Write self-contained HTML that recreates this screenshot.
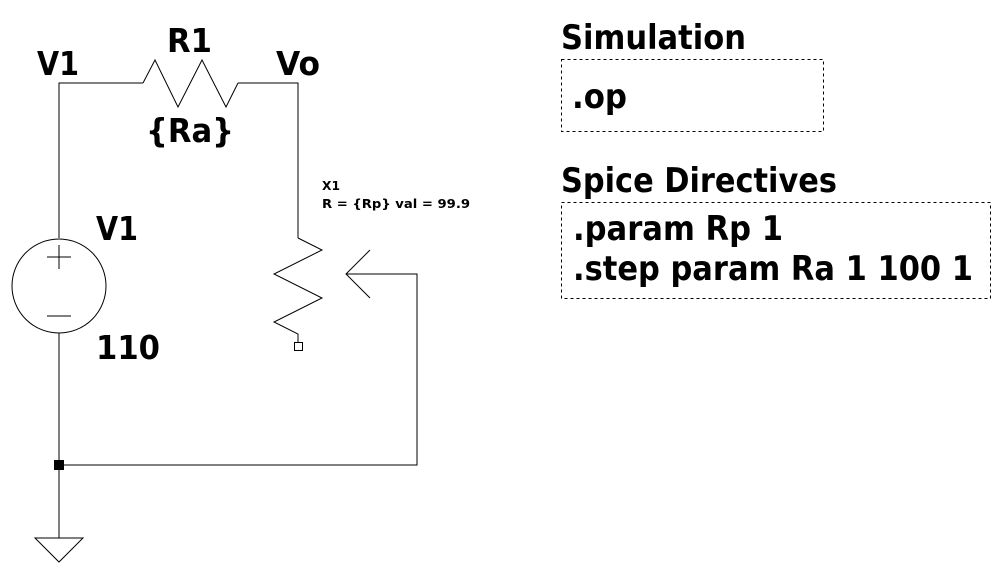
<!DOCTYPE html>
<html><head><style>html,body{margin:0;padding:0;background:#fff;}svg{display:block}</style></head><body>
<svg width="1002" height="580" viewBox="0 0 1002 580" xmlns="http://www.w3.org/2000/svg">
<g fill="none" stroke="#000" stroke-width="1" shape-rendering="crispEdges">
<polyline points="59,238 59,83 143,83"/>
<polyline points="238,83 298,83 298,238"/>
<polyline points="59,333 59,538"/>
<polyline points="59,465 417,465 417,274 346,274"/>
</g>
<g fill="none" stroke="#000" stroke-width="1">
<polyline points="143,83 155,60 178,107 202,60 226,107 238,83"/>
<polyline points="298,238 322,250 274,274 322,298 274,322 298,334 298,342"/>
<polyline points="370,250 346,274 370,298"/>
<circle cx="59" cy="286" r="47"/>
<line x1="47" y1="257" x2="71" y2="257"/>
<line x1="59" y1="245" x2="59" y2="269"/>
<line x1="47" y1="316" x2="71" y2="316"/>
<rect x="294.5" y="342.5" width="8" height="8"/>
<polygon points="35,538 83,538 59,562"/>
<rect x="561.5" y="59.5" width="262" height="72" stroke-dasharray="3,3"/>
<rect x="561.5" y="202.5" width="429" height="96" stroke-dasharray="3,3"/>
</g>
<rect x="54" y="460" width="10" height="10" fill="#000"/>
<g font-family="'DejaVu Sans','Liberation Sans',sans-serif" font-weight="bold" fill="#000">
<text x="37" y="75" font-size="33" textLength="42" lengthAdjust="spacingAndGlyphs">V1</text>
<text x="167" y="52" font-size="33" textLength="45" lengthAdjust="spacingAndGlyphs">R1</text>
<text x="276" y="75" font-size="33" textLength="44" lengthAdjust="spacingAndGlyphs">Vo</text>
<text x="146" y="142" font-size="33" textLength="88" lengthAdjust="spacingAndGlyphs">{Ra}</text>
<text x="96" y="240" font-size="33" textLength="42" lengthAdjust="spacingAndGlyphs">V1</text>
<text x="96" y="359" font-size="33" textLength="64" lengthAdjust="spacingAndGlyphs">110</text>
<text x="322" y="190" font-size="12" textLength="18" lengthAdjust="spacingAndGlyphs">X1</text>
<text x="322" y="208" font-size="12" textLength="148" lengthAdjust="spacingAndGlyphs">R = {Rp} val = 99.9</text>
<text x="561" y="49" font-size="34" textLength="185" lengthAdjust="spacingAndGlyphs">Simulation</text>
<text x="572" y="108" font-size="34" textLength="55" lengthAdjust="spacingAndGlyphs">.op</text>
<text x="561" y="192" font-size="34" textLength="276" lengthAdjust="spacingAndGlyphs">Spice Directives</text>
<text x="573" y="240" font-size="34" textLength="210" lengthAdjust="spacingAndGlyphs">.param Rp 1</text>
<text x="573" y="280" font-size="34" textLength="400" lengthAdjust="spacingAndGlyphs">.step param Ra 1 100 1</text>
</g>
</svg>
</body></html>
